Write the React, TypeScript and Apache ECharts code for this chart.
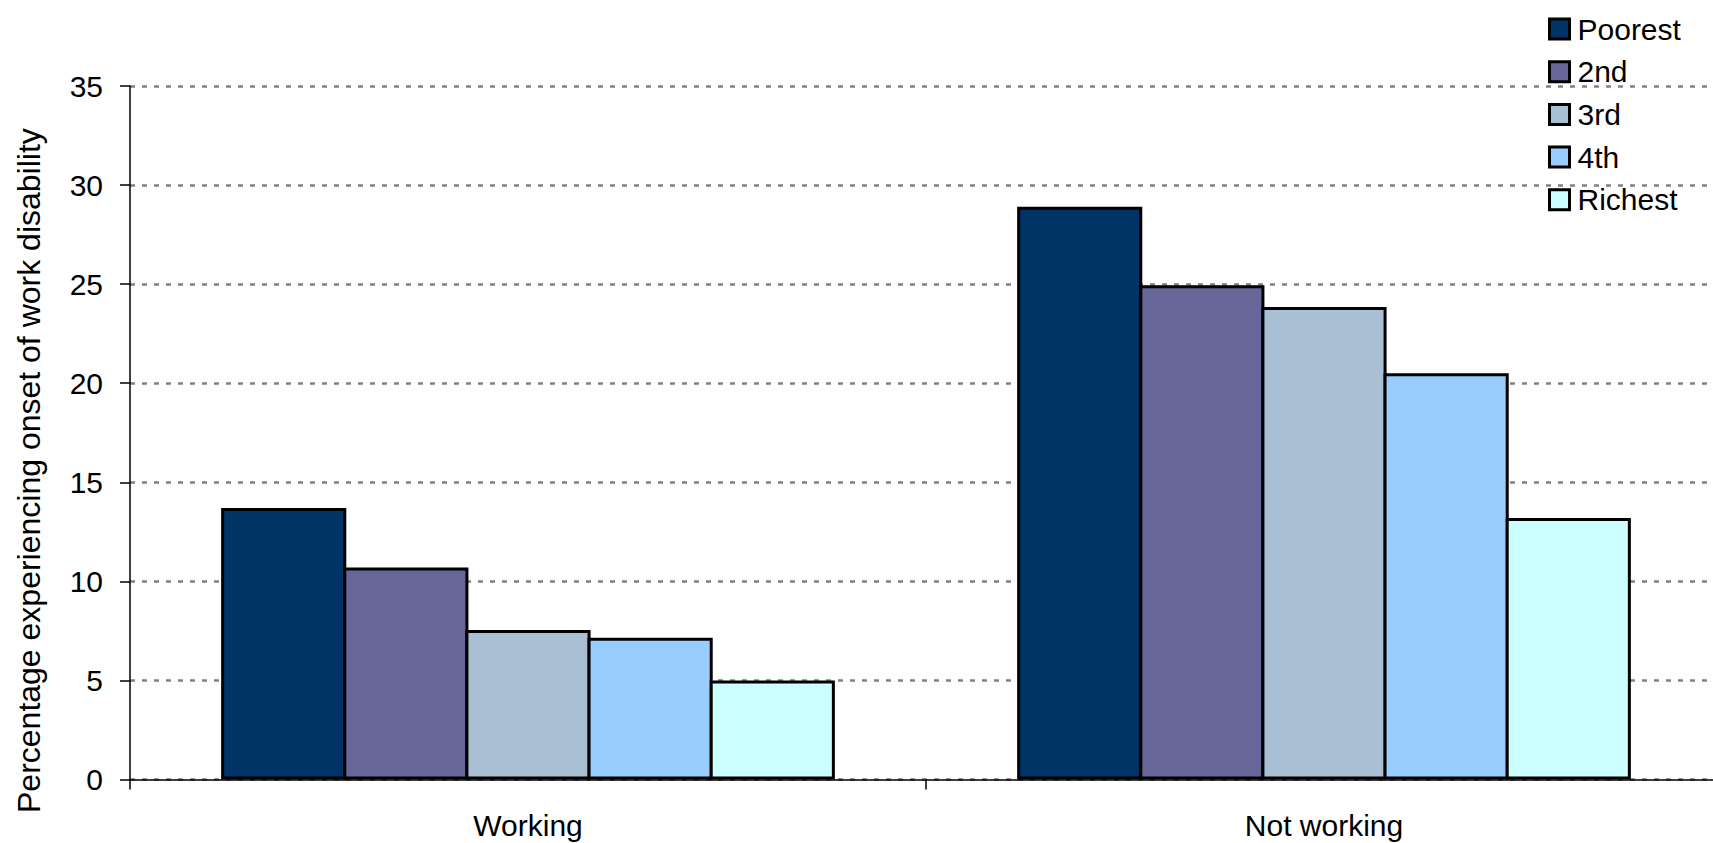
import React, { useEffect, useRef } from "react";
import * as echarts from "echarts";

// Employment status groups on the x axis
const categories = ["Working", "Not working"];

// Wealth quintiles, poorest to richest
const quintiles = ["Poorest", "2nd", "3rd", "4th", "Richest"];
const quintileColors = ["#003366", "#666699", "#A9BFD4", "#99CCFF", "#CCFFFF"];

// Percentage experiencing onset of work disability, per quintile: [Working, Not working]
const poorest = [13.7, 28.9];
const second = [10.7, 24.95];
const third = [7.55, 23.85];
const fourth = [7.15, 20.5];
const richest = [5.0, 13.2];

const seriesValues = [poorest, second, third, fourth, richest];

const yTicks = { min: 0, max: 35, interval: 5 };

const axisTitle = "Percentage experiencing onset of work disability";

const FONT = "'Liberation Sans', Arial, Helvetica, sans-serif";

export default function App() {
  const ref = useRef<HTMLDivElement | null>(null);

  useEffect(() => {
    if (!ref.current) return;
    const chart = echarts.init(ref.current, null, { renderer: "svg" });

    // Adjacent bars overlap by one border width so neighbours share a single outline
    const series = quintiles.map((name, i) => ({
      name,
      type: "bar" as const,
      data: seriesValues[i],
      barGap: "-2.4%",
      barCategoryGap: "22.9%",
      itemStyle: {
        color: quintileColors[i],
        borderColor: "#000000",
        borderWidth: 3,
      },
      emphasis: { disabled: true },
    }));

    chart.setOption({
      animation: false,
      backgroundColor: "#ffffff",
      textStyle: { fontFamily: FONT },
      // The plot area runs slightly past the right edge of the canvas
      grid: {
        left: 130,
        width: 1592,
        top: 86,
        bottom: 63.5,
        containLabel: false,
        outerBoundsMode: "none",
      },
      legend: {
        orient: "vertical",
        left: 1548,
        top: 14,
        padding: 0,
        itemWidth: 20,
        itemHeight: 20,
        itemGap: 12.7,
        icon: "rect",
        selectedMode: false,
        itemStyle: { borderColor: "#000000", borderWidth: 3 },
        textStyle: {
          fontFamily: FONT,
          fontSize: 30,
          lineHeight: 30,
          color: "#000000",
          padding: [0, 0, 0, 3],
        },
        data: quintiles,
      },
      xAxis: {
        type: "category",
        data: categories,
        axisLine: { show: true, lineStyle: { color: "#000000", width: 1.5 } },
        axisTick: { show: true, length: 10, lineStyle: { color: "#000000", width: 1.5 } },
        axisLabel: {
          fontFamily: FONT,
          fontSize: 30,
          lineHeight: 30,
          color: "#000000",
          margin: 31,
        },
        splitLine: { show: false },
      },
      yAxis: {
        type: "value",
        min: yTicks.min,
        max: yTicks.max,
        interval: yTicks.interval,
        axisLine: { show: true, lineStyle: { color: "#000000", width: 1.5 } },
        axisTick: { show: true, length: 10, lineStyle: { color: "#000000", width: 1.5 } },
        axisLabel: {
          fontFamily: FONT,
          fontSize: 30,
          lineHeight: 30,
          color: "#000000",
          margin: 27,
        },
        splitLine: {
          show: true,
          lineStyle: { color: "#808080", width: 2.5, type: [5, 7] },
        },
      },
      graphic: [
        {
          type: "text",
          x: 29,
          y: 813,
          rotation: Math.PI / 2,
          silent: true,
          style: {
            text: axisTitle,
            fontFamily: FONT,
            fontSize: 32,
            fill: "#000000",
            textAlign: "left",
            textVerticalAlign: "middle",
          },
        },
      ],
      series,
    });

    return () => {
      chart.dispose();
    };
  }, []);

  return (
    <div
      ref={ref}
      style={{ position: "fixed", left: 0, top: 0, width: 1713, height: 843, background: "#ffffff" }}
    />
  );
}
